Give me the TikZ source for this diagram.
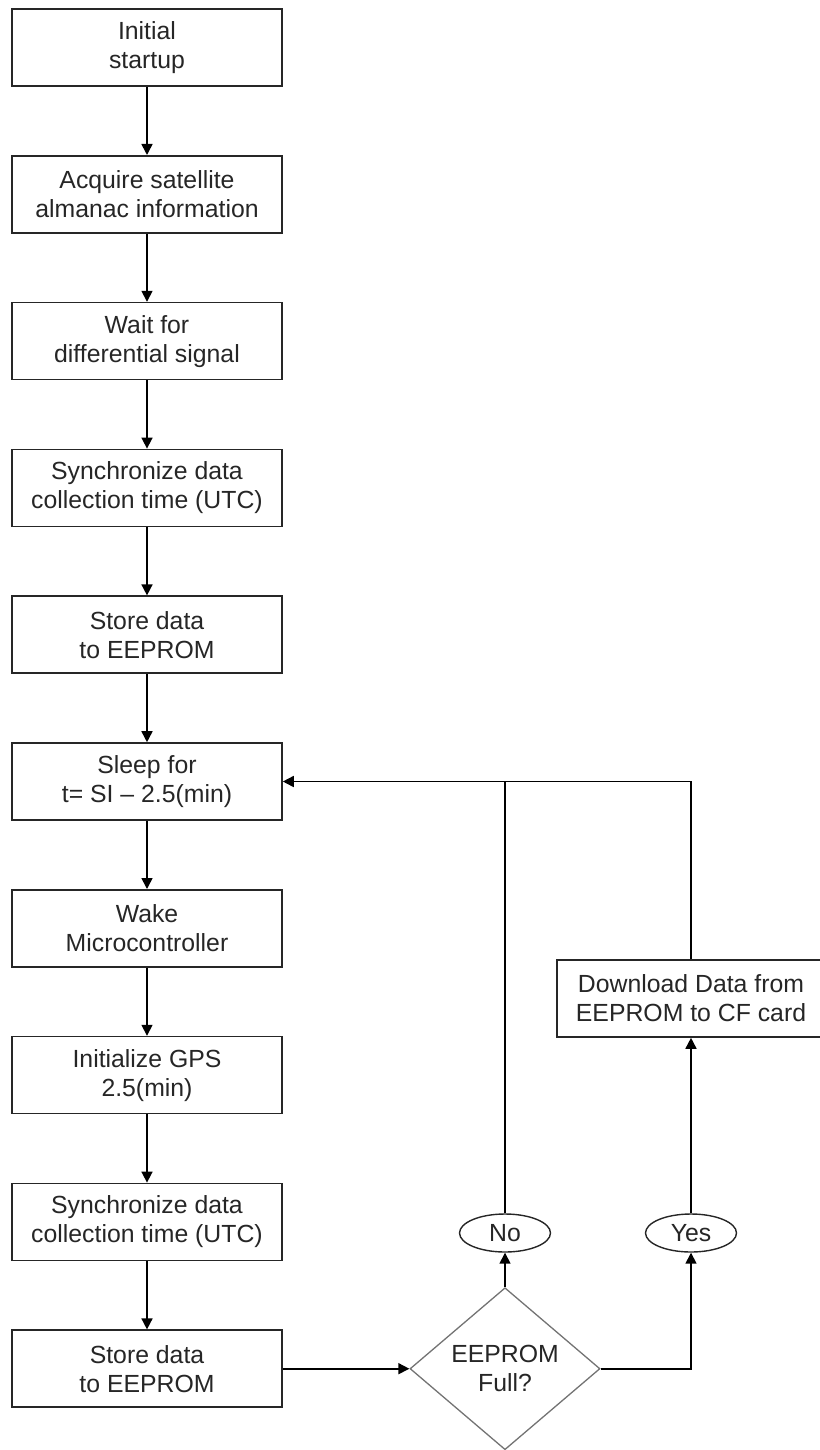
\documentclass[tikz,border=0pt]{standalone}
\usepackage{fontspec}
\setmainfont{Liberation Sans}
\usetikzlibrary{shapes.geometric,arrows.meta}
\begin{document}
\begin{tikzpicture}[x=1pt,y=-1pt,
  every node/.style={font=\fontsize{24.8}{29}\selectfont, text=black!85, align=center, inner sep=0pt},
  stepbox/.style={draw=black!85, line width=1.6pt, rectangle, minimum width=270pt, minimum height=77pt},
  dlbox/.style={draw=black!85, line width=1.6pt, rectangle, minimum width=268pt, minimum height=77pt},
  decision/.style={draw=black!55, line width=1.3pt, diamond, aspect=1.173, minimum width=190pt, minimum height=162pt},
  answer/.style={draw=black!85, line width=1.4pt, ellipse, minimum width=91pt, minimum height=38pt},
  conn/.style={draw=black, line width=1.6pt, -{Triangle[length=11pt,width=11pt]}},
  plain/.style={draw=black, line width=1.6pt}]
\useasboundingbox (0,0) rectangle (819,1450);
\node[stepbox] (b1) at (147,47.5) {Initial\\startup};
\node[stepbox] (b2) at (147,194.3) {Acquire satellite\\almanac information};
\node[stepbox] (b3) at (147,341.1) {Wait for\\differential signal};
\node[stepbox] (b4) at (147,487.9) {Synchronize data\\collection time (UTC)};
\node[stepbox] (b5) at (147,634.7) {Store data\\to EEPROM};
\node[stepbox] (b6) at (147,781.5) {Sleep for\\t= SI – 2.5(min)};
\node[stepbox] (b7) at (147,928.3) {Wake\\Microcontroller};
\node[stepbox] (b8) at (147,1075.1) {Initialize GPS\\2.5(min)};
\node[stepbox] (b9) at (147,1221.9) {Synchronize data\\collection time (UTC)};
\node[stepbox] (b10) at (147,1368.7) {Store data\\to EEPROM};
\node[decision] (d) at (505,1368.7) {EEPROM\\Full?};
\node[answer] (no) at (505,1233) {No};
\node[answer] (yes) at (691,1233) {Yes};
\node[dlbox] (dl) at (691,998.5) {Download Data from\\EEPROM to CF card};
\draw[conn] (b1) -- (b2);
\draw[conn] (b2) -- (b3);
\draw[conn] (b3) -- (b4);
\draw[conn] (b4) -- (b5);
\draw[conn] (b5) -- (b6);
\draw[conn] (b6) -- (b7);
\draw[conn] (b7) -- (b8);
\draw[conn] (b8) -- (b9);
\draw[conn] (b9) -- (b10);
\draw[conn] (b10) -- (d.west);
\draw[conn] (d.north) -- (no.south);
\draw[conn] (d.east) -| (yes.south);
\draw[conn] (yes.north) -- (dl.south);
\draw[conn] (no.north) |- (b6.east);
\draw[plain] (dl.north) |- (no.north |- b6.east);
\end{tikzpicture}
\end{document}
